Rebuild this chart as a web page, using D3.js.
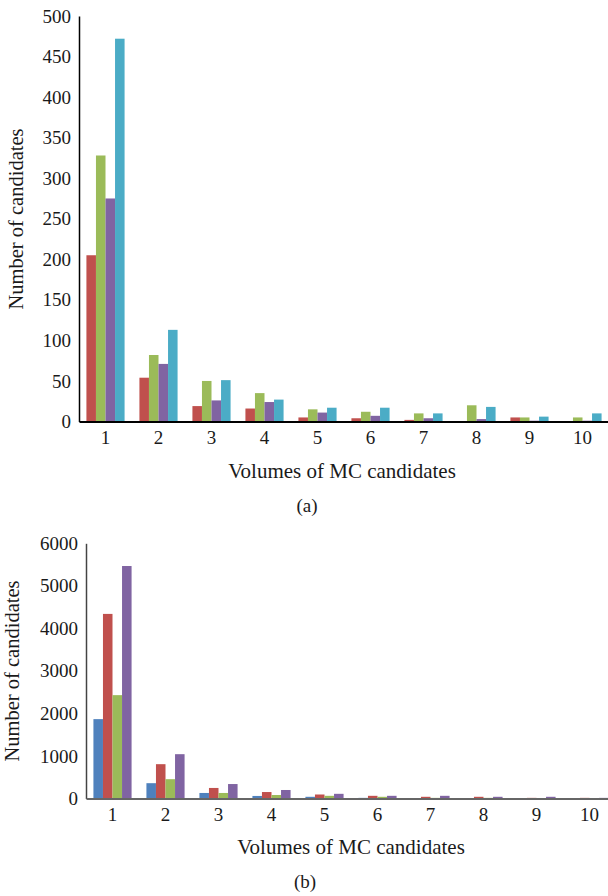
<!DOCTYPE html>
<html>
<head>
<meta charset="utf-8">
<script src="https://cdn.jsdelivr.net/npm/d3@7"></script>
<style>
  html, body { margin: 0; padding: 0; background: #fff; }
  svg text { font-family: "Liberation Serif", "DejaVu Serif", serif; fill: #1a1a1a; }
</style>
</head>
<body>
<svg id="chart" width="608" height="896"></svg>
<script>
// ---- data ----
const volumes = ["1", "2", "3", "4", "5", "6", "7", "8", "9", "10"];

// panel (a): four series
const seriesA = ["s2", "s3", "s4", "s5"];
const a_s2 = [205, 54, 19, 16, 5, 4, 2, 0, 5, 0];
const a_s3 = [328, 82, 50, 35, 15, 12, 10, 20, 5, 5];
const a_s4 = [275, 71, 26, 24, 11, 7, 4, 3, 1, 1];
const a_s5 = [472, 113, 51, 27, 17, 17, 10, 18, 6, 10];
const ticksA = [0, 50, 100, 150, 200, 250, 300, 350, 400, 450, 500];

// panel (b): four series
const seriesB = ["s1", "s2", "s3", "s4"];
const b_s1 = [1866, 360, 130, 60, 40, 15, 10, 10, 5, 5];
const b_s2 = [4340, 807, 248, 152, 94, 63, 40, 40, 15, 15];
const b_s3 = [2430, 454, 130, 82, 63, 40, 15, 15, 10, 10];
const b_s4 = [5466, 1042, 340, 200, 110, 63, 63, 40, 40, 15];
const ticksB = [0, 1000, 2000, 3000, 4000, 5000, 6000];

const colors = { s1: "#4f81bd", s2: "#c0504d", s3: "#9bbb59", s4: "#8064a2", s5: "#4bacc6" };

const svg = d3.select("#chart");

function drawPanel(opt) {
  const g = svg.append("g");
  const rows = volumes.map((v, i) => {
    const r = { vol: v };
    opt.keys.forEach((k, j) => { r[k] = opt.values[j][i]; });
    return r;
  });

  const x0 = d3.scaleBand().domain(volumes).range([opt.left, opt.right]).padding(0);
  const bw = x0.bandwidth();
  const x1 = d3.scaleBand().domain(opt.keys).range([bw * 0.14, bw * 0.86]).padding(0);
  const y = d3.scaleLinear().domain([0, opt.max]).range([opt.bottom, opt.top]);

  // bars
  g.append("g").selectAll("g")
    .data(rows)
    .join("g")
    .attr("transform", d => `translate(${x0(d.vol)},0)`)
    .selectAll("rect")
    .data(d => opt.keys.map(k => ({ key: k, value: d[k] })))
    .join("rect")
    .attr("x", d => x1(d.key))
    .attr("width", x1.bandwidth())
    .attr("y", d => y(d.value))
    .attr("height", d => opt.bottom - y(d.value))
    .attr("fill", d => colors[d.key]);

  // y axis
  const yAxis = g.append("g")
    .attr("transform", `translate(${opt.left},0)`)
    .call(d3.axisLeft(y).tickValues(opt.ticks).tickFormat(d3.format("d")).tickSize(0).tickPadding(8));
  yAxis.select(".domain").attr("stroke", opt.axisColor).attr("stroke-width", 1.5);
  yAxis.selectAll("text").attr("font-size", 19).attr("fill", "#1a1a1a")
    .style("font-family", "Liberation Serif, serif");

  // x axis
  const xAxis = g.append("g")
    .attr("transform", `translate(0,${opt.bottom})`)
    .call(d3.axisBottom(x0).tickSize(0).tickPadding(9).tickSizeOuter(0));
  xAxis.select(".domain").attr("stroke", opt.baseColor).attr("stroke-width", 2);
  xAxis.selectAll("text").attr("font-size", 19).attr("fill", "#1a1a1a")
    .style("font-family", "Liberation Serif, serif");

  // axis titles
  g.append("text")
    .attr("transform", `translate(${opt.yTitleX},${opt.yTitleY}) rotate(-90)`)
    .attr("text-anchor", "middle")
    .attr("dominant-baseline", "middle")
    .attr("font-size", 20.5)
    .text("Number of candidates");

  g.append("text")
    .attr("x", opt.xTitleX)
    .attr("y", opt.xTitleY)
    .attr("text-anchor", "middle")
    .attr("dominant-baseline", "middle")
    .attr("font-size", 21)
    .text("Volumes of MC candidates");

  g.append("text")
    .attr("x", opt.capX)
    .attr("y", opt.capY)
    .attr("text-anchor", "middle")
    .attr("dominant-baseline", "middle")
    .attr("font-size", 19)
    .text(opt.caption);
}

drawPanel({
  keys: seriesA,
  values: [a_s2, a_s3, a_s4, a_s5],
  ticks: ticksA, max: 500,
  left: 79, right: 609, top: 16, bottom: 421.5,
  axisColor: "#000", baseColor: "#000",
  yTitleX: 18, yTitleY: 219,
  xTitleX: 342, xTitleY: 473,
  capX: 307, capY: 508, caption: "(a)"
});

drawPanel({
  keys: seriesB,
  values: [b_s1, b_s2, b_s3, b_s4],
  ticks: ticksB, max: 6000,
  left: 86, right: 616, top: 543.3, bottom: 798.5,
  axisColor: "#444", baseColor: "#666",
  yTitleX: 14, yTitleY: 671,
  xTitleX: 351, xTitleY: 849,
  capX: 305, capY: 884, caption: "(b)"
});
</script>
</body>
</html>
